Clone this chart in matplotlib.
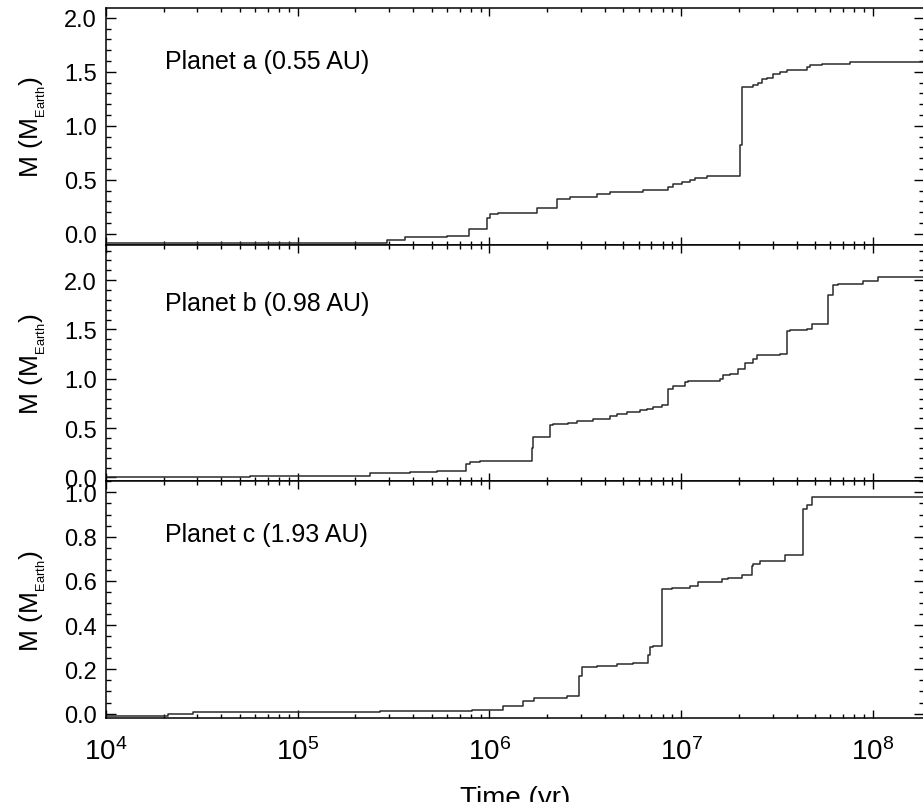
import matplotlib
matplotlib.use("Agg")
import matplotlib.pyplot as plt
from matplotlib.ticker import MultipleLocator, LogLocator, NullFormatter

plt.rcParams["font.family"] = ["Liberation Sans", "DejaVu Sans"]
plt.rcParams["mathtext.fontset"] = "custom"
plt.rcParams["mathtext.rm"] = "Liberation Sans"
plt.rcParams["mathtext.it"] = "Liberation Sans:italic"
plt.rcParams["mathtext.bf"] = "Liberation Sans:bold"

# Datos (tiempo en anios, masa en masas terrestres)
t_a = [1.0e4, 2.93e5, 3.63e5, 5.98e5, 7.85e5, 9.75e5, 1.01e6, 1.11e6, 1.77e6, 2.25e6,
       2.63e6, 3.63e6, 4.26e6, 6.32e6, 8.55e6, 9.08e6, 1.01e7, 1.11e7, 1.18e7, 1.36e7,
       2.03e7, 2.09e7, 2.38e7, 2.53e7, 2.63e7, 2.79e7, 3.03e7, 3.28e7, 3.56e7, 4.52e7,
       4.70e7, 5.41e7, 7.60e7, 2.0e8]
m_a = [-0.085, -0.057, -0.032, -0.017, 0.044, 0.151, 0.182, 0.197, 0.243, 0.319,
       0.341, 0.365, 0.387, 0.41, 0.433, 0.457, 0.482, 0.503, 0.518, 0.54,
       0.824, 1.36, 1.374, 1.399, 1.429, 1.445, 1.482, 1.497, 1.518, 1.543,
       1.558, 1.573, 1.589, 1.589]

t_b = [1.0e4, 5.64e4, 2.38e5, 3.85e5, 5.31e5, 7.55e5, 7.93e5, 8.94e5, 1.66e6, 1.69e6,
       2.07e6, 2.15e6, 2.58e6, 2.85e6, 3.48e6, 4.26e6, 4.61e6, 5.20e6, 6.11e6, 6.62e6,
       7.17e6, 7.93e6, 8.58e6, 9.1e6, 1.05e7, 1.09e7, 1.60e7, 1.66e7, 1.80e7, 1.99e7,
       2.15e7, 2.38e7, 2.48e7, 3.28e7, 3.56e7, 3.70e7, 4.52e7, 4.80e7, 5.86e7, 6.22e7,
       6.61e7, 8.92e7, 1.07e8, 2.0e8]
m_b = [0.0, 0.016, 0.045, 0.055, 0.065, 0.14, 0.157, 0.163, 0.30, 0.41,
       0.528, 0.538, 0.556, 0.572, 0.596, 0.623, 0.647, 0.664, 0.68, 0.696,
       0.713, 0.73, 0.90, 0.923, 0.968, 0.978, 1.002, 1.036, 1.053, 1.096,
       1.164, 1.198, 1.238, 1.255, 1.482, 1.492, 1.509, 1.553, 1.847, 1.948,
       1.958, 1.989, 2.032, 2.032]

t_c = [1.0e4, 2.11e4, 2.84e4, 2.69e5, 4.01e5, 8.09e5, 1.18e6, 1.50e6, 1.71e6, 2.53e6,
       2.94e6, 3.03e6, 3.63e6, 4.61e6, 5.63e6, 6.75e6, 6.88e6, 7.17e6, 7.93e6, 8.93e6,
       1.11e7, 1.23e7, 1.63e7, 1.76e7, 2.07e7, 2.33e7, 2.38e7, 2.58e7, 3.48e7, 4.34e7,
       4.52e7, 4.80e7, 2.0e8]
m_c = [-0.01, 0.0, 0.005, 0.011, 0.013, 0.018, 0.036, 0.058, 0.069, 0.080,
       0.169, 0.211, 0.214, 0.224, 0.229, 0.266, 0.30, 0.306, 0.563, 0.570,
       0.578, 0.595, 0.608, 0.615, 0.625, 0.667, 0.674, 0.689, 0.719, 0.926,
       0.942, 0.979, 0.979]

etiquetas = ["Planet a (0.55 AU)", "Planet b (0.98 AU)", "Planet c (1.93 AU)"]

fig = plt.figure(figsize=(9.23, 8.03), dpi=100)
gs = fig.add_gridspec(3, 1, left=106 / 923, right=924 / 923, top=1 - 9 / 803,
                      bottom=1 - 719 / 803, hspace=0)
axs = [fig.add_subplot(gs[i]) for i in range(3)]

series = [(t_a, m_a), (t_b, m_b), (t_c, m_c)]
ylims = [(-0.1, 2.09), (-0.04, 2.36), (-0.02, 1.05)]
mayores = [0.5, 0.5, 0.2]
menores = [0.1, 0.1, 0.05]
texto_y = [0.775, 0.755, 0.776]

for i, ax in enumerate(axs):
    t, m = series[i]
    ax.step(t, m, where="post", color="#2b2b2b", lw=1.1)
    ax.set_xscale("log")
    ax.set_xlim(1e4, 1.85e8)
    ax.set_ylim(*ylims[i])
    ax.yaxis.set_major_locator(MultipleLocator(mayores[i]))
    ax.yaxis.set_minor_locator(MultipleLocator(menores[i]))
    ax.yaxis.set_major_formatter(plt.FormatStrFormatter("%.1f"))
    ax.xaxis.set_major_locator(LogLocator(base=10))
    ax.xaxis.set_minor_locator(LogLocator(base=10, subs=range(2, 10)))
    ax.xaxis.set_minor_formatter(NullFormatter())
    ax.tick_params(which="both", direction="in", top=True, right=True, width=1.0)
    ax.tick_params(axis="y", which="major", length=7, labelsize=17, pad=6.5)
    ax.tick_params(axis="y", which="minor", length=3.5)
    ax.tick_params(axis="x", which="major", length=6, labelsize=20, pad=14)
    ax.tick_params(axis="x", which="minor", length=3)
    for s in ax.spines.values():
        s.set_linewidth(1.1)
    ax.text(0.0724, texto_y[i], etiquetas[i], transform=ax.transAxes,
            fontsize=18, va="center", ha="left")
    ax.set_ylabel(r"M (M$_{_{\rm Earth}}$)", fontsize=19)
    ax.yaxis.set_label_coords(-0.071, 0.5)
    if i < 2:
        ax.tick_params(axis="x", labelbottom=False)

axs[2].set_xlabel("Time (yr)", fontsize=20)
axs[2].xaxis.set_label_coords(0.5, -0.285)

plt.savefig("out.png", dpi=100)
